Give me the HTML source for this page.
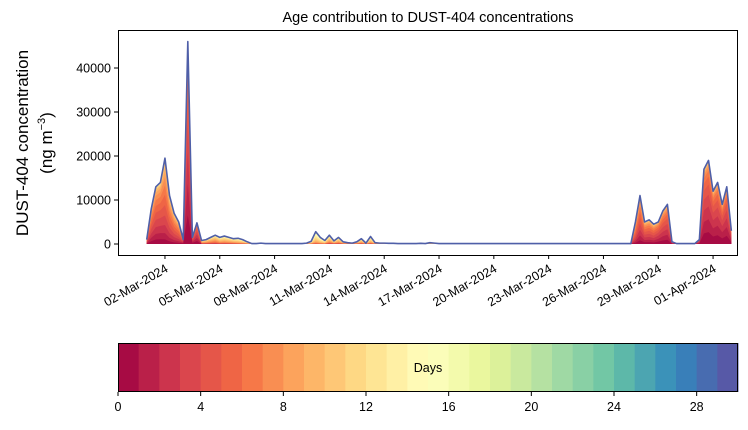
<!DOCTYPE html>
<html><head><meta charset="utf-8">
<style>
body{margin:0;background:#fff;}
svg text{font-family:"Liberation Sans","DejaVu Sans",sans-serif;fill:#000;}
</style></head>
<body>
<svg id="chart" width="748" height="425" xmlns="http://www.w3.org/2000/svg">
<text x="428" y="22" font-size="14.5" text-anchor="middle">Age contribution to DUST-404 concentrations</text>
<g id="layers"></g>
<g id="yaxis"></g>
<g id="xaxis"></g>
<rect x="118.5" y="30.5" width="619" height="225" fill="none" stroke="#000" stroke-width="1"/>
<text transform="translate(28,143) rotate(-90)" font-size="17" text-anchor="middle">DUST-404 concentration</text>
<text transform="translate(52,143) rotate(-90)" font-size="17" text-anchor="middle">(ng m<tspan font-size="11" dy="-7">−3</tspan><tspan dy="7">)</tspan></text>
<g id="cbar"></g>
<text x="428" y="372" font-size="12.5" text-anchor="middle">Days</text>
</svg>
<script>
// ---- data ----
// 6-hourly totals starting 01-Mar-2024 00:00, ending 01-Apr-2024 00:00
const totals = [
1000,8000,13000,14000,
19500,11000,7000,5000,
1000,46000,1500,4800,
800,1000,1500,2000,
1500,1800,1500,1200,
1300,1000,500,100,
100,200,100,100,
100,100,100,100,
100,100,100,200,
600,2800,1500,800,
2000,700,1500,500,
300,200,500,1200,
200,1700,300,200,
200,150,150,100,
100,100,100,100,
150,100,300,200,
100,100,100,100,
100,100,100,100,
100,100,100,100,
100,100,100,100,
100,100,100,100,
100,100,100,100,
100,100,100,100,
100,100,100,100,
100,100,100,100,
100,100,100,100,
100,100,100,5000,
11000,5000,5500,4500,
5000,7500,9000,500,
100,100,100,100,
100,1000,17000,19000,
12000,14000,9000,13000,
3000
];
// mean age (days) per calendar day, 01-Mar .. 01-Apr
const meanAgeByDay = [4,5,2,9,10,11,12,12,12,12,10,10,11,12,13,13,13,13,13,13,13,13,13,13,13,6,5,4,3,2,2,2];
const xTickLabels = ["02-Mar-2024","05-Mar-2024","08-Mar-2024","11-Mar-2024","14-Mar-2024","17-Mar-2024","20-Mar-2024","23-Mar-2024","26-Mar-2024","29-Mar-2024","01-Apr-2024"];
const xTickDays = [1,4,7,10,13,16,19,22,25,28,31];
const yTicks = [0,10000,20000,30000,40000];
const cbarTicks = [0,4,8,12,16,20,24,28];
const nAges = 30;

// ---- scales ----
function xDay(d){ return 146.7 + d*18.27; }
function yVal(v){ return 244 - v*0.0044; }
function cbX(a){ return 118 + a*(620/30); }

const anchors = ["9e0142","d53e4f","f46d43","fdae61","fee08b","ffffbf","e6f598","abdda4","66c2a5","3288bd","5e4fa2"].map(h=>[parseInt(h.slice(0,2),16),parseInt(h.slice(2,4),16),parseInt(h.slice(4,6),16)]);
function spectral(t){
  const p=t*10, i=Math.min(9,Math.floor(p)), f=p-i;
  const c=anchors[i].map((v,k)=>Math.round(v+(anchors[i+1][k]-v)*f));
  return `rgb(${c[0]},${c[1]},${c[2]})`;
}
const NS="http://www.w3.org/2000/svg";
function mk(tag,attrs,parent){const e=document.createElementNS(NS,tag);for(const k in attrs)e.setAttribute(k,attrs[k]);parent.appendChild(e);return e;}

// ---- layers ----
const n = totals.length;
const cum = [];
for(let k=0;k<nAges;k++) cum.push(new Array(n).fill(0));
for(let i=0;i<n;i++){
  const m = meanAgeByDay[Math.min(meanAgeByDay.length-1,Math.floor(i/4))];
  const w=[]; let s=0;
  for(let k=0;k<nAges;k++){ const g=Math.exp(-Math.pow((k+0.5-m)/3.5,2)/2)+0.006; w.push(g); s+=g; }
  let acc=0;
  for(let k=0;k<nAges;k++){ acc+=totals[i]*w[k]/s; cum[k][i]=acc; }
}
const layers=document.getElementById('layers');
for(let k=nAges-1;k>=0;k--){
  let d=`M${xDay(0)},${yVal(0)}`;
  for(let i=0;i<n;i++) d+=` L${xDay(i/4).toFixed(2)},${yVal(cum[k][i]).toFixed(2)}`;
  d+=` L${xDay((n-1)/4)},${yVal(0)} Z`;
  const p=mk('path',{d:d,fill:spectral((k+0.5)/nAges),stroke:'none'},layers);
  
  
}
let dl='';
for(let i=0;i<n;i++) dl+=(i?' L':'M')+xDay(i/4).toFixed(2)+','+yVal(totals[i]).toFixed(2);
const tl=mk('path',{d:dl,fill:'none',stroke:'#4f5fa8','stroke-width':1.6,'stroke-linejoin':'round'},layers);



// ---- y axis ----
const ya=document.getElementById('yaxis');
yTicks.forEach(v=>{
  const y=yVal(v);
  mk('line',{x1:114,x2:118,y1:y,y2:y,stroke:'#000'},ya);
  const t=mk('text',{x:111,y:y+4.5,'font-size':12.5,'text-anchor':'end'},ya);
  t.textContent=v;
  
  
});
// ---- x axis ----
const xa=document.getElementById('xaxis');
xTickDays.forEach((d,j)=>{
  const x=xDay(d);
  mk('line',{x1:x,x2:x,y1:255,y2:259,stroke:'#000'},xa);
  const t=mk('text',{transform:`translate(${x+4},${271}) rotate(-30)`,'font-size':12.5,'text-anchor':'end'},xa);
  t.textContent=xTickLabels[j];
  
  
});
// ---- colorbar ----
const cb=document.getElementById('cbar');
for(let a=0;a<nAges;a++){
  const r=mk('rect',{x:cbX(a),y:343,width:cbX(a+1)-cbX(a)+0.5,height:49,fill:spectral((a+0.5)/nAges)},cb);
  
  
}
mk('rect',{x:118.5,y:343.5,width:619,height:48,fill:'none',stroke:'#000'},cb);
cbarTicks.forEach(a=>{
  const x=cbX(a);
  mk('line',{x1:x,x2:x,y1:392,y2:396,stroke:'#000'},cb);
  const t=mk('text',{x:x,y:411,'font-size':12.5,'text-anchor':'middle'},cb);
  t.textContent=a;
  
  
});
</script>
</body></html>
